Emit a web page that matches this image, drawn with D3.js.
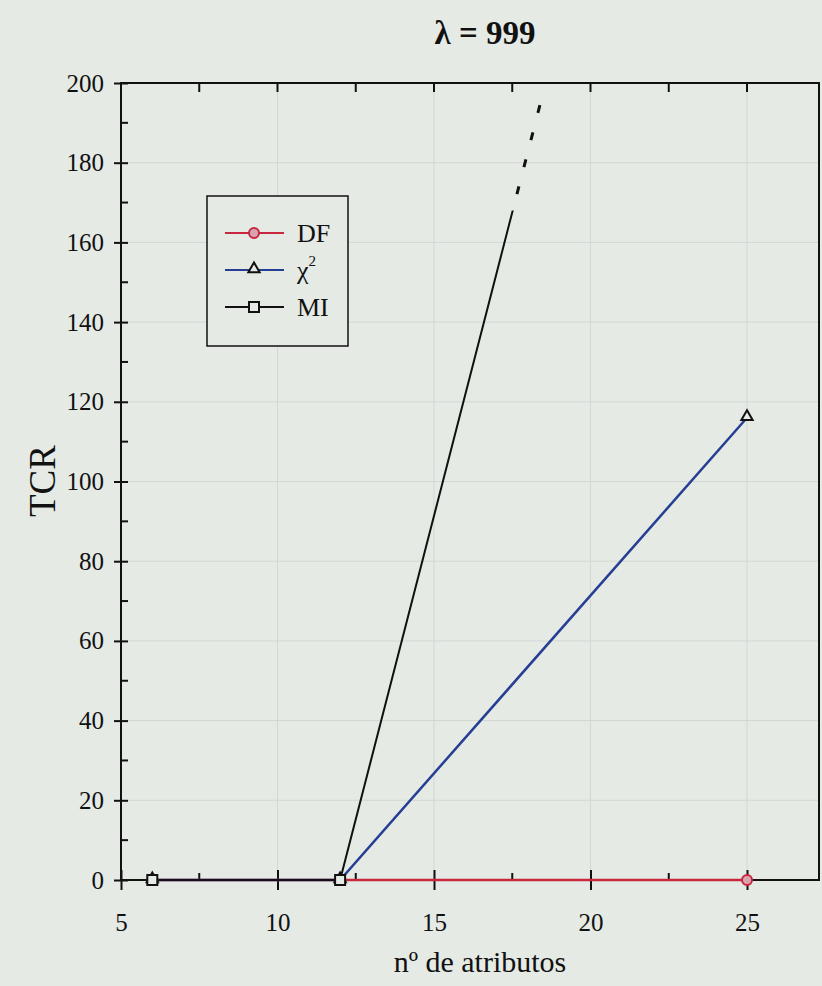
<html>
<head>
	<script src="https://d3js.org/d3.v7.min.js"></script>
	<style>
		body { margin: 0; background: #e5eae5; }
	</style>
</head>
<body>
	<script>
		// data
		var atributos = [6, 12, 25];
		var df = [0, 0, 0];
		var chi2 = [0, 0, 116];
		var mi = [0, 0, 396];
		var xTicks = [5, 10, 15, 20, 25];
		var yTicks = [0, 20, 40, 60, 80, 100, 120, 140, 160, 180, 200];

		var w = 822, h = 986;
		var plotL = 121, plotR = 819, plotT = 83, plotB = 880;
		var bg = "#e5eae5";
		var serif = "'Liberation Serif', 'DejaVu Serif', serif";

		var svg = d3.select("body").append("svg").attr("width", w).attr("height", h)
			.style("font-family", serif);
		svg.append("rect").attr("width", w).attr("height", h).attr("fill", bg);

		var x = d3.scaleLinear().domain([5, 27.3]).range([plotL, plotR]);
		var y = d3.scaleLinear().domain([0, 200]).range([plotB, plotT]);

		// faint grid
		svg.append("g").selectAll("line").data(xTicks.slice(1)).enter().append("line")
			.attr("x1", function(d){ return x(d); }).attr("x2", function(d){ return x(d); })
			.attr("y1", plotT).attr("y2", plotB)
			.attr("stroke", "#d2d7d3").attr("stroke-width", 1);
		svg.append("g").selectAll("line").data(yTicks.slice(1, -1)).enter().append("line")
			.attr("x1", plotL).attr("x2", plotR)
			.attr("y1", function(d){ return y(d); }).attr("y2", function(d){ return y(d); })
			.attr("stroke", "#d2d7d3").attr("stroke-width", 1);

		// frame
		svg.append("rect").attr("x", plotL).attr("y", plotT)
			.attr("width", plotR - plotL).attr("height", plotB - plotT)
			.attr("fill", "none").attr("stroke", "#111").attr("stroke-width", 2);

		// y axis: majors cross the line, minors inward
		var yAxis = d3.axisLeft(y).tickValues(yTicks).tickSize(7).tickPadding(10);
		var ya = svg.append("g").attr("transform", "translate(" + plotL + ",0)").call(yAxis);
		ya.select(".domain").remove();
		ya.selectAll(".tick line").attr("x2", 7).attr("x1", -7).attr("stroke", "#111").attr("stroke-width", 2);
		ya.selectAll("text").style("font-family", serif).style("font-size", "25px").attr("fill", "#111");
		svg.append("g").selectAll("line").data(d3.range(10, 200, 20)).enter().append("line")
			.attr("x1", plotL).attr("x2", plotL + 7)
			.attr("y1", function(d){ return y(d); }).attr("y2", function(d){ return y(d); })
			.attr("stroke", "#111").attr("stroke-width", 2);

		// x axis bottom
		var xAxis = d3.axisBottom(x).tickValues(xTicks).tickSize(10).tickPadding(23);
		var xa = svg.append("g").attr("transform", "translate(0," + plotB + ")").call(xAxis);
		xa.select(".domain").remove();
		xa.selectAll(".tick line").attr("y1", -10).attr("stroke", "#111").attr("stroke-width", 2);
		xa.selectAll("text").style("font-family", serif).style("font-size", "25px").attr("fill", "#111");
		svg.append("g").selectAll("line").data([7.5, 12.5, 17.5, 22.5]).enter().append("line")
			.attr("x1", function(d){ return x(d); }).attr("x2", function(d){ return x(d); })
			.attr("y1", plotB).attr("y2", plotB - 7)
			.attr("stroke", "#111").attr("stroke-width", 2);

		// top ticks, inward
		svg.append("g").selectAll("line").data([7.5, 10, 12.5, 15, 17.5, 20, 22.5, 25]).enter().append("line")
			.attr("x1", function(d){ return x(d); }).attr("x2", function(d){ return x(d); })
			.attr("y1", plotT).attr("y2", plotT + 9)
			.attr("stroke", "#111").attr("stroke-width", 2);

		// clip areas
		var defs = svg.append("defs");
		defs.append("clipPath").attr("id", "plot").append("rect")
			.attr("x", plotL).attr("y", plotT).attr("width", plotR - plotL).attr("height", plotB - plotT + 10);
		defs.append("clipPath").attr("id", "low").append("rect")
			.attr("x", plotL).attr("y", y(168)).attr("width", plotR - plotL).attr("height", plotB - y(168) + 10);
		defs.append("clipPath").attr("id", "high").append("rect")
			.attr("x", plotL).attr("y", plotT + 4).attr("width", plotR - plotL).attr("height", y(168) - plotT - 4);

		var series = [
			{ name: "DF", values: df, color: "#c8283f", marker: "circle" },
			{ name: "χ", values: chi2, color: "#263e93", marker: "triangle" },
			{ name: "MI", values: mi, color: "#111111", marker: "square" }
		];

		var line = d3.line()
			.x(function(d){ return x(d[0]); })
			.y(function(d){ return y(d[1]); });

		function pts(s){ return atributos.map(function(a, i){ return [a, s.values[i]]; }); }

		function drawMarker(g, type, cx, cy, color){
			if (type == "circle") {
				g.append("circle").attr("cx", cx).attr("cy", cy).attr("r", 5)
					.attr("fill", "#d9a3b0").attr("stroke", color).attr("stroke-width", 2);
			} else if (type == "triangle") {
				g.append("path").attr("d", d3.symbol().type(d3.symbolTriangle).size(55)())
					.attr("transform", "translate(" + cx + "," + (cy - 1) + ")")
					.attr("fill", bg).attr("stroke", "#111").attr("stroke-width", 2);
			} else {
				g.append("rect").attr("x", cx - 5).attr("y", cy - 5).attr("width", 10).attr("height", 10)
					.attr("fill", bg).attr("stroke", "#111").attr("stroke-width", 2);
			}
		}

		var lines = svg.append("g");
		series.forEach(function(s){
			if (s.name == "MI") {
				lines.append("path").attr("clip-path", "url(#low)").attr("d", line(pts(s)))
					.attr("fill", "none").attr("stroke", s.color).attr("stroke-width", 2);
				lines.append("path").attr("clip-path", "url(#high)").attr("d", line(pts(s)))
					.attr("fill", "none").attr("stroke", s.color).attr("stroke-width", 3)
					.attr("stroke-dasharray", "8,20");
			} else {
				lines.append("path").attr("clip-path", "url(#plot)").attr("d", line(pts(s)))
					.attr("fill", "none").attr("stroke", s.color).attr("stroke-width", 2.5);
			}
		});

		var marks = svg.append("g");
		series.forEach(function(s){
			pts(s).forEach(function(p){
				if (p[1] <= 200) drawMarker(marks, s.marker, x(p[0]), y(p[1]), s.color);
			});
		});

		// legend
		var lg = svg.append("g");
		lg.append("rect").attr("x", 207).attr("y", 196).attr("width", 141).attr("height", 150)
			.attr("fill", bg).attr("stroke", "#111").attr("stroke-width", 1.5);
		series.forEach(function(s, i){
			var ly = 233 + i * 37;
			lg.append("line").attr("x1", 225).attr("x2", 284).attr("y1", ly).attr("y2", ly)
				.attr("stroke", s.color).attr("stroke-width", 2);
			drawMarker(lg, s.marker, 254, ly, s.color);
			var t = lg.append("text").attr("x", 297).attr("y", ly + 9)
				.style("font-size", "26px").attr("fill", "#111");
			t.text(s.name);
			if (s.name == "χ") {
				t.append("tspan").attr("dy", -13).style("font-size", "15px").text("2");
			}
		});

		// titles
		svg.append("text").attr("x", 485).attr("y", 44).attr("text-anchor", "middle")
			.style("font-size", "33px").attr("font-weight", "bold").attr("fill", "#111").text("λ = 999");
		svg.append("text").attr("x", 480).attr("y", 972).attr("text-anchor", "middle")
			.style("font-size", "30px").attr("fill", "#111").text("nº de atributos");
		svg.append("text").attr("transform", "translate(55,481) rotate(-90)").attr("text-anchor", "middle")
			.style("font-size", "37px").attr("fill", "#111").text("TCR");
	</script>
</body>
</html>
